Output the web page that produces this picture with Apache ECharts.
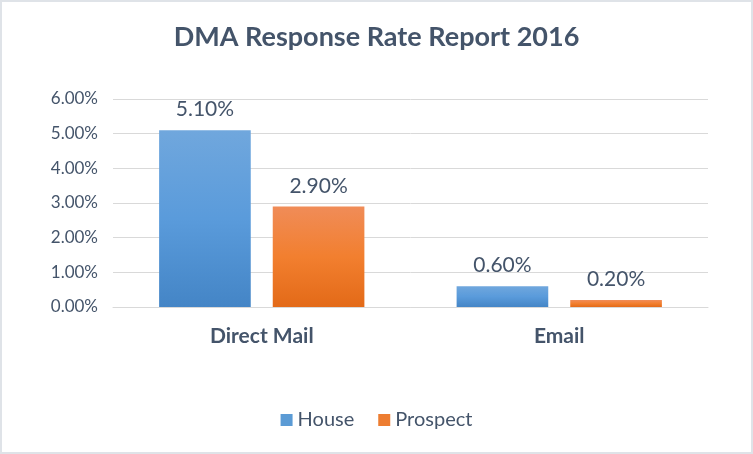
<!DOCTYPE html>
<html><head><meta charset="utf-8">
<script src="https://cdn.jsdelivr.net/npm/echarts@6/dist/echarts.min.js"></script>
<style>html,body{margin:0;padding:0;background:#fff}#c{width:753px;height:454px;box-sizing:border-box;border:2px solid #dfe3e8}</style>
</head><body><div id="c"></div>
<script>
var categories = ['Direct Mail', 'Email'];
var houseValues = [5.10, 0.60];
var prospectValues = [2.90, 0.20];
var seriesNames = ['House', 'Prospect'];
var yTicks = { min: 0, max: 6, interval: 1 };

var txt = '#44546A';
var font = 'Lato';
function grad(top, mid, bot) {
  return new echarts.graphic.LinearGradient(0, 0, 0, 1, [
    { offset: 0, color: top }, { offset: 0.5, color: mid }, { offset: 1, color: bot }
  ]);
}
var chart = echarts.init(document.getElementById('c'));
chart.setOption({
  animation: false,
  textStyle: { fontFamily: font },
  title: { text: 'DMA Response Rate Report 2016', left: 'center', top: 17,
    textStyle: { fontFamily: font, fontWeight: 'bold', fontSize: 27, color: txt } },
  grid: { left: 111, right: 43, top: 97, bottom: 145 },
  legend: { bottom: 17, left: 'center', itemWidth: 12, itemHeight: 12, itemGap: 24,
    textStyle: { fontSize: 20, color: txt, fontFamily: font },
    data: [{ name: seriesNames[0], icon: 'rect', itemStyle: { color: '#5b9bd5' } },
           { name: seriesNames[1], icon: 'rect', itemStyle: { color: '#ed7d31' } }] },
  xAxis: { type: 'category', data: categories,
    axisLine: { lineStyle: { color: '#d9d9d9' } }, axisTick: { show: false },
    axisLabel: { fontSize: 21, fontWeight: 'bold', color: txt, margin: 19 } },
  yAxis: { type: 'value', min: yTicks.min, max: yTicks.max, interval: yTicks.interval,
    axisLine: { show: false }, axisTick: { show: false },
    splitLine: { lineStyle: { color: '#d9d9d9' } },
    axisLabel: { fontSize: 17, color: txt, margin: 15,
      formatter: function (v) { return v.toFixed(2) + '%'; } } },
  series: [
    { name: seriesNames[0], type: 'bar', data: houseValues, barGap: '24%', barCategoryGap: '31%',
      itemStyle: { color: grad('#70a7dd', '#5a9bdb', '#4485c6') },
      label: { show: true, position: 'top', distance: 10, fontSize: 21, color: txt,
        formatter: function (p) { return p.value.toFixed(2) + '%'; } } },
    { name: seriesNames[1], type: 'bar', data: prospectValues,
      itemStyle: { color: grad('#f08c58', '#f27f2f', '#e36a18') },
      label: { show: true, position: 'top', distance: 10, fontSize: 21, color: txt,
        formatter: function (p) { return p.value.toFixed(2) + '%'; } } }
  ]
});
</script></body></html>
